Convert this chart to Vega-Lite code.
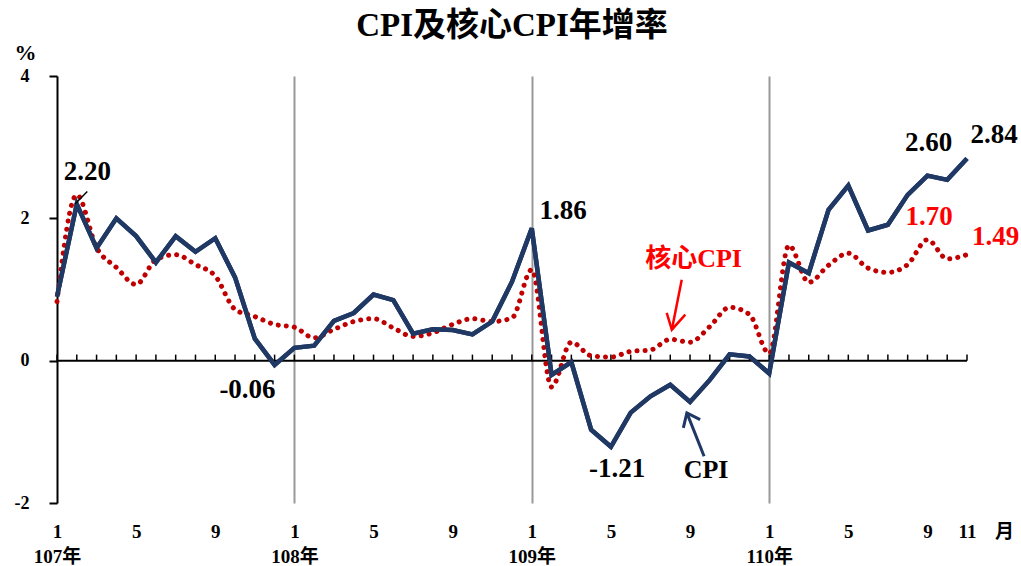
{
  "$schema": "https://vega.github.io/schema/vega-lite/v6.json",
  "width": 910,
  "height": 427,
  "autosize": {"type": "none"},
  "padding": {"left": 57, "top": 76, "right": 54, "bottom": 63},
  "background": "white",
  "view": {"stroke": null},
  "config": {"font": "'Liberation Serif', 'Noto Sans CJK TC', serif"},
  "title": {
    "text": "CPI及核心CPI年增率",
    "fontSize": 33,
    "fontWeight": "bold",
    "font": "'Liberation Serif', 'Noto Sans CJK TC', serif",
    "color": "black",
    "anchor": "middle",
    "frame": "group",
    "offset": -2
  },
  "datasets": {
    "cpi": [
      {"t": 0, "cpi": 0.90, "core": 0.83},
      {"t": 1, "cpi": 2.20, "core": 2.33},
      {"t": 2, "cpi": 1.58, "core": 1.59},
      {"t": 3, "cpi": 2.00, "core": 1.31},
      {"t": 4, "cpi": 1.75, "core": 1.07},
      {"t": 5, "cpi": 1.38, "core": 1.42},
      {"t": 6, "cpi": 1.75, "core": 1.49},
      {"t": 7, "cpi": 1.53, "core": 1.35},
      {"t": 8, "cpi": 1.72, "core": 1.19},
      {"t": 9, "cpi": 1.17, "core": 0.72},
      {"t": 10, "cpi": 0.31, "core": 0.62},
      {"t": 11, "cpi": -0.06, "core": 0.51},
      {"t": 12, "cpi": 0.18, "core": 0.47},
      {"t": 13, "cpi": 0.21, "core": 0.32},
      {"t": 14, "cpi": 0.56, "core": 0.44},
      {"t": 15, "cpi": 0.67, "core": 0.55},
      {"t": 16, "cpi": 0.93, "core": 0.59},
      {"t": 17, "cpi": 0.85, "core": 0.46},
      {"t": 18, "cpi": 0.38, "core": 0.34},
      {"t": 19, "cpi": 0.44, "core": 0.39},
      {"t": 20, "cpi": 0.43, "core": 0.51},
      {"t": 21, "cpi": 0.37, "core": 0.59},
      {"t": 22, "cpi": 0.55, "core": 0.55},
      {"t": 23, "cpi": 1.11, "core": 0.60},
      {"t": 24, "cpi": 1.86, "core": 1.28},
      {"t": 25, "cpi": -0.20, "core": -0.37},
      {"t": 26, "cpi": -0.02, "core": 0.26},
      {"t": 27, "cpi": -0.97, "core": 0.07},
      {"t": 28, "cpi": -1.21, "core": 0.05},
      {"t": 29, "cpi": -0.73, "core": 0.13},
      {"t": 30, "cpi": -0.50, "core": 0.15},
      {"t": 31, "cpi": -0.34, "core": 0.30},
      {"t": 32, "cpi": -0.58, "core": 0.26},
      {"t": 33, "cpi": -0.27, "core": 0.48},
      {"t": 34, "cpi": 0.09, "core": 0.75},
      {"t": 35, "cpi": 0.06, "core": 0.65},
      {"t": 36, "cpi": -0.18, "core": 0.10},
      {"t": 37, "cpi": 1.38, "core": 1.62},
      {"t": 38, "cpi": 1.23, "core": 1.10},
      {"t": 39, "cpi": 2.12, "core": 1.34},
      {"t": 40, "cpi": 2.46, "core": 1.51},
      {"t": 41, "cpi": 1.83, "core": 1.30},
      {"t": 42, "cpi": 1.91, "core": 1.24},
      {"t": 43, "cpi": 2.33, "core": 1.35},
      {"t": 44, "cpi": 2.60, "core": 1.70},
      {"t": 45, "cpi": 2.54, "core": 1.43},
      {"t": 46, "cpi": 2.84, "core": 1.49}
    ],
    "labelsCPI": [
      {"t": 1.54, "v": 2.65, "text": "2.20"},
      {"t": 9.63, "v": -0.41, "text": "-0.06"},
      {"t": 25.58, "v": 2.1, "text": "1.86"},
      {"t": 28.31, "v": -1.52, "text": "-1.21"},
      {"t": 44.06, "v": 3.06, "text": "2.60"},
      {"t": 47.37, "v": 3.17, "text": "2.84"}
    ],
    "labelsCore": [
      {"t": 44.08, "v": 2.02, "text": "1.70"},
      {"t": 47.45, "v": 1.74, "text": "1.49"}
    ],
    "nameCPI": [{"t": 32.81, "v": -1.54, "text": "CPI"}],
    "nameCore": [{"t": 32.18, "v": 1.43, "text": "核心CPI"}],
    "leader": [
      {"part": "lead", "ord": 1, "t": 1.53, "v": 2.376},
      {"part": "lead", "ord": 2, "t": 0.91, "v": 2.20}
    ],
    "arrowCore": [
      {"part": "shaft", "ord": 1, "t": 31.58, "v": 1.137},
      {"part": "shaft", "ord": 2, "t": 31.08, "v": 0.435},
      {"part": "head", "ord": 1, "t": 30.82, "v": 0.67},
      {"part": "head", "ord": 2, "t": 31.08, "v": 0.435},
      {"part": "head", "ord": 3, "t": 31.76, "v": 0.646}
    ],
    "arrowCPI": [
      {"part": "shaft", "ord": 1, "t": 32.71, "v": -1.343},
      {"part": "shaft", "ord": 2, "t": 31.84, "v": -0.734},
      {"part": "head", "ord": 1, "t": 31.66, "v": -0.945},
      {"part": "head", "ord": 2, "t": 31.84, "v": -0.734},
      {"part": "head", "ord": 3, "t": 32.51, "v": -0.828}
    ]
  },
  "layer": [
    {
      "data": {"name": "cpi"},
      "mark": {"type": "line", "color": "#1F3864", "strokeWidth": 4.5},
      "encoding": {
        "x": {
          "field": "t",
          "type": "quantitative",
          "scale": {"domain": [0, 46], "nice": false, "zero": false},
          "axis": {
            "orient": "bottom",
            "values": [0, 4, 8, 12, 16, 20, 24, 28, 32, 36, 40, 44, 46],
            "labelExpr": "datum.value % 12 == 0 ? [format(datum.value % 12 + 1, 'd'), format(107 + floor(datum.value / 12), 'd') + '年'] : format(datum.value % 12 + 1, 'd')",
            "domain": false,
            "ticks": false,
            "grid": true,
            "gridColor": "#999999",
            "gridWidth": 2,
            "gridOpacity": {"condition": {"test": "datum.value == 12 || datum.value == 24 || datum.value == 36", "value": 1}, "value": 0},
            "labelFontSize": 19,
            "labelFontWeight": "bold",
            "labelColor": "black",
            "labelPadding": 19,
            "labelLineHeight": 25,
            "labelFlush": false,
            "labelOverlap": false,
            "title": "月",
            "titleX": 947,
            "titleY": 28,
            "titleAlign": "center",
            "titleBaseline": "middle",
            "titleFontSize": 19,
            "titleFontWeight": "bold",
            "titleColor": "black"
          }
        },
        "y": {
          "field": "cpi",
          "type": "quantitative",
          "scale": {"domain": [-2, 4], "nice": false},
          "axis": {
            "values": [-2, 0, 2, 4],
            "labelExpr": "datum.value < 0 ? '-' + abs(datum.value) : '' + datum.value",
            "grid": false,
            "domainColor": "black",
            "domainWidth": 2,
            "tickColor": "black",
            "tickWidth": 2,
            "tickSize": 8,
            "labelFontSize": 18,
            "labelFontWeight": "bold",
            "labelColor": "black",
            "labelPadding": 20,
            "title": "%",
            "titleAngle": 0,
            "titleX": -32,
            "titleY": -24,
            "titleAlign": "center",
            "titleBaseline": "middle",
            "titleFontSize": 22,
            "titleFontWeight": "bold",
            "titleColor": "black"
          }
        }
      }
    },
    {
      "data": {"values": [{}]},
      "mark": {"type": "rule", "color": "black", "strokeWidth": 2},
      "encoding": {"y": {"datum": 0}}
    },
    {
      "data": {"name": "cpi"},
      "mark": {"type": "rule", "color": "black", "strokeWidth": 1.5},
      "encoding": {
        "x": {"field": "t", "type": "quantitative"},
        "y": {"datum": 0},
        "y2": {"datum": 0.085}
      }
    },
    {
      "data": {"name": "cpi"},
      "mark": {"type": "line", "color": "#C00000", "strokeWidth": 5, "strokeDash": [0.1, 8], "strokeCap": "round", "interpolate": "monotone"},
      "encoding": {
        "x": {"field": "t", "type": "quantitative"},
        "y": {"field": "core", "type": "quantitative"}
      }
    },
    {
      "data": {"name": "cpi"},
      "mark": {"type": "line", "color": "#1F3864", "strokeWidth": 4.5},
      "encoding": {
        "x": {"field": "t", "type": "quantitative"},
        "y": {"field": "cpi", "type": "quantitative"}
      }
    },
    {
      "data": {"name": "leader"},
      "mark": {"type": "line", "color": "black", "strokeWidth": 1.5},
      "encoding": {
        "x": {"field": "t", "type": "quantitative"},
        "y": {"field": "v", "type": "quantitative"},
        "detail": {"field": "part"},
        "order": {"field": "ord"}
      }
    },
    {
      "data": {"name": "arrowCore"},
      "mark": {"type": "line", "color": "#FF0000", "strokeWidth": 2.5},
      "encoding": {
        "x": {"field": "t", "type": "quantitative"},
        "y": {"field": "v", "type": "quantitative"},
        "detail": {"field": "part"},
        "order": {"field": "ord"}
      }
    },
    {
      "data": {"name": "arrowCPI"},
      "mark": {"type": "line", "color": "#1F3864", "strokeWidth": 3},
      "encoding": {
        "x": {"field": "t", "type": "quantitative"},
        "y": {"field": "v", "type": "quantitative"},
        "detail": {"field": "part"},
        "order": {"field": "ord"}
      }
    },
    {
      "data": {"name": "labelsCPI"},
      "mark": {"type": "text", "color": "black", "fontSize": 27, "fontWeight": "bold", "align": "center", "baseline": "middle"},
      "encoding": {
        "x": {"field": "t", "type": "quantitative"},
        "y": {"field": "v", "type": "quantitative"},
        "text": {"field": "text"}
      }
    },
    {
      "data": {"name": "labelsCore"},
      "mark": {"type": "text", "color": "#FF0000", "fontSize": 27, "fontWeight": "bold", "align": "center", "baseline": "middle"},
      "encoding": {
        "x": {"field": "t", "type": "quantitative"},
        "y": {"field": "v", "type": "quantitative"},
        "text": {"field": "text"}
      }
    },
    {
      "data": {"name": "nameCPI"},
      "mark": {"type": "text", "color": "black", "fontSize": 26, "fontWeight": "bold", "align": "center", "baseline": "middle"},
      "encoding": {
        "x": {"field": "t", "type": "quantitative"},
        "y": {"field": "v", "type": "quantitative"},
        "text": {"field": "text"}
      }
    },
    {
      "data": {"name": "nameCore"},
      "mark": {"type": "text", "color": "#FF0000", "fontSize": 26, "fontWeight": "bold", "align": "center", "baseline": "middle"},
      "encoding": {
        "x": {"field": "t", "type": "quantitative"},
        "y": {"field": "v", "type": "quantitative"},
        "text": {"field": "text"}
      }
    }
  ]
}
